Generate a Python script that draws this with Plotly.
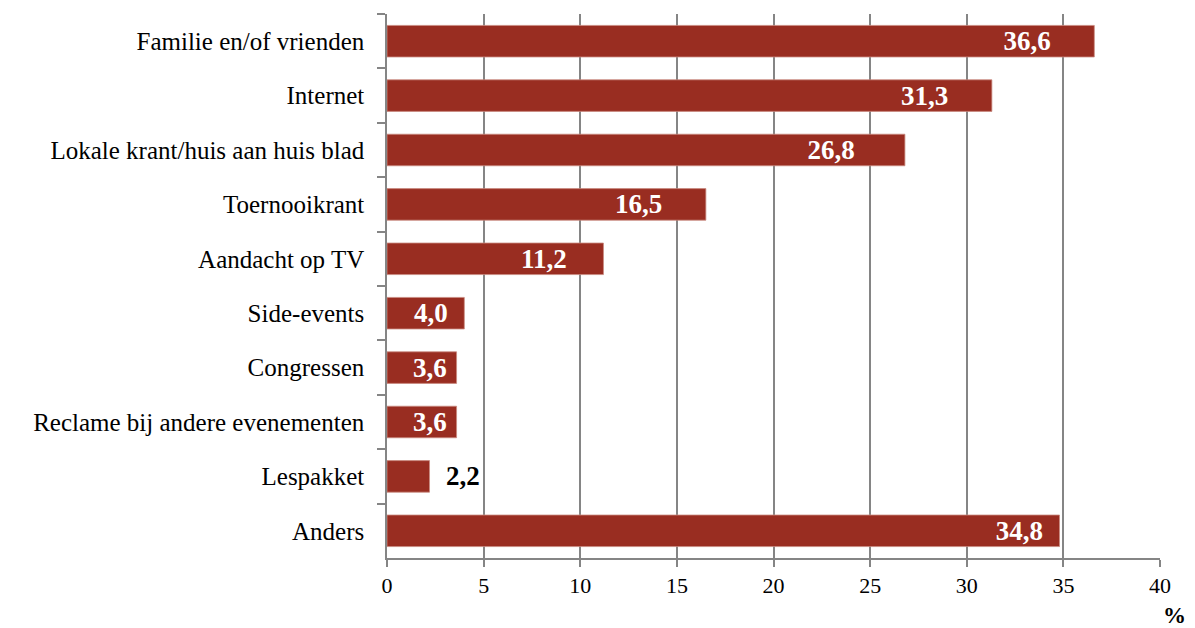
import plotly.graph_objects as go

categories = ["Familie en/of vrienden", "Internet", "Lokale krant/huis aan huis blad",
              "Toernooikrant", "Aandacht op TV", "Side-events", "Congressen",
              "Reclame bij andere evenementen", "Lespakket", "Anders"]
values = [36.6, 31.3, 26.8, 16.5, 11.2, 4.0, 3.6, 3.6, 2.2, 34.8]
x_ticks = [0, 5, 10, 15, 20, 25, 30, 35, 40]

# label styling: gap between label and bar end, in invisible padding characters
label_pad = [6, 6, 7, 6, 5, 2, 1, 1, 2, 2]

FONT = "Liberation Serif, Times New Roman, serif"
BAR = "#992D21"
GRID = "#858585"

positions = ["outside" if v < 3 else "inside" for v in values]
colors = ["black" if v < 3 else "white" for v in values]


def pad(n, col):
    if n == 0:
        return ""
    return "<span style='color:%s'>%s</span>" % (col, "." * n)


templates = [("\u00a0" * p + "<b>%{x:.1f}</b>") if v < 3
             else ("<b>%{x:.1f}</b>" + "<b>" + pad(p, BAR) + "</b>")
             for v, p in zip(values, label_pad)]

fig = go.Figure(go.Bar(
    x=values, y=categories, orientation="h",
    marker=dict(color=BAR, line=dict(color="#c98a80", width=0.8)),
    texttemplate=templates, textposition=positions,
    insidetextanchor="end",
    textfont=dict(family=FONT, size=27, color=colors),
    outsidetextfont=dict(family=FONT, size=27, color="black"),
    cliponaxis=False,
))

# page body has an 8px margin, so margins are offset by 8px
fig.update_layout(
    width=1195, height=628,
    margin=dict(l=379, r=43, t=6, b=78),
    plot_bgcolor="white", paper_bgcolor="white",
    separators=",.",
    bargap=0.42,
    showlegend=False,
    font=dict(family=FONT, size=20, color="black"),
    uniformtext=dict(minsize=27, mode="show"),
)
fig.update_xaxes(
    range=[0, 40], tickvals=x_ticks, ticktext=[str(t) for t in x_ticks],
    showgrid=True, gridcolor=GRID, gridwidth=1.5,
    showline=True, linecolor=GRID, linewidth=1.5,
    ticks="outside", ticklen=7, tickwidth=1.5, tickcolor=GRID,
    tickfont=dict(family=FONT, size=22, color="black"),
    zeroline=False,
)
fig.update_yaxes(
    autorange="reversed", type="category",
    showline=True, linecolor=GRID, linewidth=1.5,
    ticks="outside", ticklen=8, tickwidth=1.5, tickcolor=GRID,
    tickson="boundaries",
    ticklabelstandoff=16,
    tickfont=dict(family=FONT, size=25, color="black"),
    showgrid=False,
)
fig.add_annotation(text="<b>%</b>", xref="paper", yref="paper",
                   x=1.019, y=-0.105, xanchor="center", yanchor="middle",
                   showarrow=False, font=dict(family=FONT, size=23, color="black"))

fig.write_html("out.html")
